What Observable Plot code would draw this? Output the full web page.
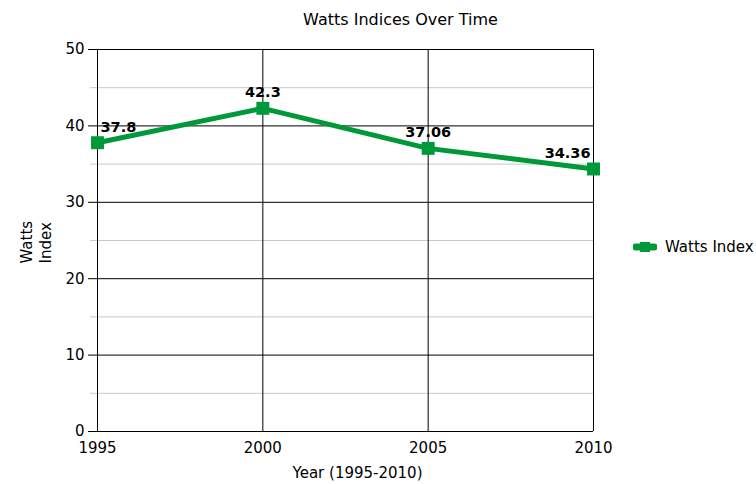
<!DOCTYPE html>
<html>
<head>
<meta charset="utf-8">
<script src="https://cdn.jsdelivr.net/npm/d3@7"></script>
<script src="https://cdn.jsdelivr.net/npm/@observablehq/plot@0.6"></script>
<style>
  html, body { margin: 0; padding: 0; background: #fff; }
  #wrap { position: relative; width: 756px; height: 484px; font-family: "DejaVu Sans", sans-serif; }
  #legend { position: absolute; left: 633px; top: 238px; display: flex; align-items: center; font-size: 15px; color: #000; }
  #legend svg { margin-right: 8px; }
</style>
</head>
<body>
<div id="wrap"></div>
<script>
const years = [1995, 2000, 2005, 2010];
const wattsIndex = [37.8, 42.3, 37.06, 34.36];
const pointLabels = ["37.8", "42.3", "37.06", "34.36"];
const yTicks = [0, 10, 20, 30, 40, 50];
const yMinorTicks = [5, 15, 25, 35, 45];
const seriesName = "Watts Index";
const titleText = "Watts Indices Over Time";
const xLabelText = "Year (1995-2010)";
const yLabelText = "Watts\nIndex";

const green = "#00993a";
const data = years.map((year, i) => ({year, value: wattsIndex[i], label: pointLabels[i], i}));
const last = data.length - 1;

const labelOpts = {x: "year", y: "value", text: "label", dy: -11, lineAnchor: "bottom", fontWeight: "bold", fontSize: 14.5, fill: "#000"};

const chart = Plot.plot({
  width: 756,
  height: 484,
  marginLeft: 97,
  marginRight: 163,
  marginTop: 49,
  marginBottom: 53,
  style: {fontFamily: "DejaVu Sans", fontSize: "15px", color: "#000", background: "#fff"},
  x: {domain: [1995, 2010]},
  y: {domain: [0, 50]},
  marks: [
    Plot.ruleY(yMinorTicks, {stroke: "#c8c8c8", strokeWidth: 1, insetLeft: -7}),
    Plot.ruleY(yTicks, {stroke: "#000", strokeWidth: 1, insetLeft: -9}),
    Plot.ruleX(years, {stroke: "#000", strokeWidth: 1}),
    Plot.axisY({ticks: yTicks, tickSize: 0, tickPadding: 13, tickFormat: d => String(d), label: null, fontSize: 15}),
    Plot.axisX({ticks: years, tickSize: 0, tickPadding: 11, tickFormat: d => String(d), label: null, fontSize: 15}),
    Plot.line(data, {x: "year", y: "value", stroke: green, strokeWidth: 5}),
    Plot.dot(data, {x: "year", y: "value", symbol: "square", r: 7.3, fill: green, stroke: "none"}),
    Plot.text(data, {...labelOpts, filter: d => d.i === 0, textAnchor: "start", dx: 3}),
    Plot.text(data, {...labelOpts, filter: d => d.i > 0 && d.i < last, textAnchor: "middle"}),
    Plot.text(data, {...labelOpts, filter: d => d.i === last, textAnchor: "end", dx: -3}),
    Plot.text([titleText], {frameAnchor: "top", dx: 55, dy: -25, lineAnchor: "bottom", fontSize: 16}),
    Plot.text([xLabelText], {frameAnchor: "bottom", dx: 12, dy: 46, lineAnchor: "bottom", fontSize: 15}),
    Plot.text([yLabelText], {frameAnchor: "left", rotate: -90, textAnchor: "start", lineAnchor: "top", lineHeight: 1.25, dx: -79, dy: 23, fontSize: 15})
  ]
});

const wrap = document.getElementById("wrap");
wrap.appendChild(chart);

const legend = document.createElement("div");
legend.id = "legend";
legend.innerHTML = `<svg width="24" height="14" viewBox="0 0 24 14">
  <line x1="3" y1="7" x2="21" y2="7" stroke="${green}" stroke-width="7" stroke-linecap="round"></line>
  <rect x="7" y="2" width="10" height="10" fill="${green}"></rect>
</svg><span></span>`;
legend.querySelector("span").textContent = seriesName;
wrap.appendChild(legend);
</script>
</body>
</html>
